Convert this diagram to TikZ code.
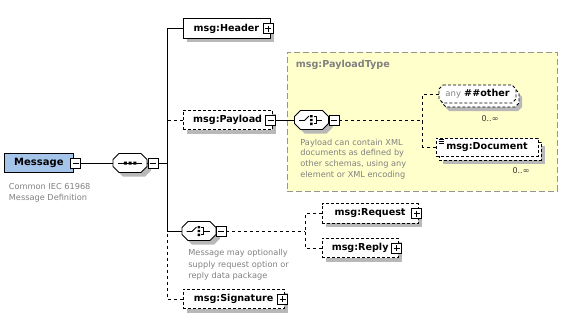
\documentclass[tikz,border=0pt]{standalone}
\usepackage{fontspec}
\setmainfont{DejaVu Sans}
\usetikzlibrary{calc}
\definecolor{shadowc}{RGB}{184,184,184}
\definecolor{msgblue}{RGB}{164,196,234}
\definecolor{yel}{RGB}{255,255,204}
\definecolor{yelborder}{RGB}{150,150,140}
\definecolor{capgrey}{RGB}{128,128,128}
\newcommand\nmfont{\fontsize{9.6}{11}\selectfont\bfseries}
% element box with shadow: name, left x, centre y, width, extra style, text
\newcommand\elembox[6]{%
  \fill[shadowc] ({#2+4},{#3-9.75+4}) rectangle ({#2+#4+4},{#3+9.75+4});
  \node[elem,#5,minimum width=#4pt,anchor=west] (#1) at (#2,#3) {#6\hspace{4pt}};
}
% compositor octagon: name, centre
\newcommand\compo[2]{%
  \begin{scope}[shift={#2}]
    \fill[shadowc] (-13,0.5) -- (-7,-5.5) -- (15,-5.5) -- (21,0.5) -- (21,7.5) -- (15,13.5) -- (-7,13.5) -- (-13,7.5) -- cycle;
    \draw[fill=white,solid] (-17,-3.5) -- (-11,-9.5) -- (11,-9.5) -- (17,-3.5) -- (17,3.5) -- (11,9.5) -- (-11,9.5) -- (-17,3.5) -- cycle;
    \node[inner sep=0pt,minimum width=34pt,minimum height=19pt] (#1) at (0,0) {};
  \end{scope}}
\newcommand\seqsym[1]{%
  \begin{scope}[shift={#1}]
    \draw[line width=0.8pt] (-12,0) -- (12,0);
    \fill (-6.25,-1.5) rectangle (-3.25,1.5) (-1.5,-1.5) rectangle (1.5,1.5) (3.25,-1.5) rectangle (6.25,1.5);
  \end{scope}}
\newcommand\choicesym[1]{%
  \begin{scope}[shift={#1}]
    \draw[line width=0.8pt] (-12.5,0.5) -- (-7,0.5) -- (-2.5,-4);
    \fill (-1.5,-5) rectangle (1,-2.6) (-1.5,-1.2) rectangle (1,1.2) (-1.5,2.6) rectangle (1,5);
    \draw[line width=0.8pt] (2,-3.8) -- (4.5,-3.8) -- (4.5,3.8) -- (2,3.8) (4.5,0) -- (10.5,0);
  \end{scope}}
\begin{document}
\begin{tikzpicture}[x=1pt,y=-1pt,line width=0.8pt,
  elem/.style={draw,fill=white,rectangle,minimum height=19.5pt,inner sep=0pt,font=\nmfont},
  optb/.style={dash pattern=on 3pt off 2pt},
  optc/.style={dash pattern=on 3pt off 3pt},
  btn/.style={draw,solid,fill=white,minimum size=10pt,inner sep=0pt,line width=0.6pt},
  minusbtn/.style={btn,path picture={\draw[line width=0.6pt] ([xshift=2pt]path picture bounding box.west) -- ([xshift=-2pt]path picture bounding box.east);}},
  plusbtn/.style={btn,path picture={\draw[line width=0.6pt] ([xshift=2pt]path picture bounding box.west) -- ([xshift=-2pt]path picture bounding box.east) ([yshift=-2pt]path picture bounding box.north) -- ([yshift=2pt]path picture bounding box.south);}},
  captxt/.style={align=left,text=capgrey,inner sep=0pt,anchor=north west},
  occ/.style={font=\fontsize{8}{9}\selectfont,text=black!80,inner sep=0pt},
]
\useasboundingbox (0,0) rectangle (582,324);

% PayloadType area
\node[draw=yelborder,fill=yel,dash pattern=on 6pt off 3pt,minimum width=270pt,minimum height=139pt,inner sep=0pt,anchor=north west] (ptype) at (287,52) {};
\node[anchor=west,inner sep=0pt,font=\nmfont,text=capgrey] (ptypelbl) at (295.5,65) {msg:PayloadType};

% root element
\node[draw,fill=msgblue,minimum width=69pt,minimum height=18.5pt,inner sep=0pt,anchor=west,font=\fontsize{10}{12}\selectfont\bfseries] (message) at (4,163) {Message};
\node[minusbtn] (msgbtn) at (75.5,163) {};
\node[captxt,font=\fontsize{8.2}{11}\selectfont] (msgcap) at (8.5,183.5) {Common IEC 61968\\Message Definition};

% sequence
\compo{seq}{(130,163)}
\seqsym{(130,163)}
\node[minusbtn] (seqbtn) at (153,163) {};
\coordinate (busmain) at (167,163);
\coordinate (bus) at (167,231);

% children
\elembox{header}{182.5}{28.5}{87}{}{msg:Header}
\node[plusbtn] (hdrbtn) at (268,28.5) {};
\elembox{payload}{182.5}{120}{89.5}{optb}{msg:Payload}
\node[minusbtn] (paybtn) at (270.5,120) {};
\elembox{signature}{182.5}{299}{101.5}{optb}{msg:Signature}
\node[plusbtn] (sigbtn) at (282.5,299) {};

% choice in payload
\compo{choice1}{(311.5,120)}
\choicesym{(311.5,120)}
\node[minusbtn] (c1btn) at (334,120) {};
\coordinate (c1j) at (422.5,120);
\node[captxt,font=\fontsize{8.2}{10.8}\selectfont] (paycap) at (300,138.5) {Payload can contain XML\\documents as defined by\\other schemas, using any\\element or XML encoding};

% any ##other (multiple)
\begin{scope}[shift={(483.5,102)}]
  \fill[shadowc] (-34.5,-9) -- (34.5,-9) -- (38.5,-5) -- (38.5,5) -- (34.5,9) -- (-34.5,9) -- (-38.5,5) -- (-38.5,-5) -- cycle;
\end{scope}
\begin{scope}[shift={(480.5,98)}]
  \draw[optb,fill=white] (-34.5,-9) -- (34.5,-9) -- (38.5,-5) -- (38.5,5) -- (34.5,9) -- (-34.5,9) -- (-38.5,5) -- (-38.5,-5) -- cycle;
\end{scope}
\begin{scope}[shift={(477.5,94)}]
  \draw[optb,fill=white] (-34.5,-9) -- (34.5,-9) -- (38.5,-5) -- (38.5,5) -- (34.5,9) -- (-34.5,9) -- (-38.5,5) -- (-38.5,-5) -- cycle;
\end{scope}
\node[inner sep=0pt,minimum width=77pt,minimum height=18pt] (any) at (477.5,94) {\textcolor{capgrey}{\fontsize{8.5}{10}\selectfont any} {\nmfont\#\#other}};
\node[occ] (anyocc) at (490,119) {0..∞};

% msg:Document (multiple)
\fill[shadowc] (443,146) rectangle (545,164);
\node[elem,optb,minimum width=102pt,minimum height=18pt] (docback) at (490,151) {};
\node[elem,optb,minimum width=102pt,minimum height=18pt] (doc) at (487,147) {msg:Document};
\draw[line width=0.5pt] (438.5,139.6) -- (443.5,139.6) (438.5,141.4) -- (443.5,141.4) (438.5,143.2) -- (443.5,143.2);
\node[occ] (dococc) at (521,171) {0..∞};

% choice under message
\compo{choice2}{(199,231)}
\choicesym{(199,231)}
\node[minusbtn] (c2btn) at (221,231) {};
\coordinate (c2j) at (305,231);
\node[captxt,font=\fontsize{8.2}{11.5}\selectfont] (c2cap) at (188,249) {Message may optionally\\supply request option or\\reply data package};

\elembox{request}{321.5}{213.5}{96.5}{optb}{msg:Request}
\node[plusbtn] (reqbtn) at (416.5,213.5) {};
\elembox{reply}{321.5}{248}{76.5}{optb}{msg:Reply}
\node[plusbtn] (repbtn) at (396.5,248) {};

% connectors
\draw (msgbtn.east) -- (seq.west);
\draw (seq.east) -- (seqbtn.west);
\draw (seqbtn.east) -- (busmain);
\draw (header.west) -| (bus);
\draw[optc] (payload.west) -- (payload.west -| bus);
\draw (choice2.west) -- (bus);
\draw[optc] (signature.west) -| (bus);
\draw (paybtn.east) -- (choice1.west);
\draw[optc] (c1btn.east) -- (c1j);
\draw[optc] (any.west) -| (c1j);
\draw[optc] (doc.west) -| (c1j);
\draw[optc] (c2btn.east) -- (c2j);
\draw[optc] (request.west) -| (c2j);
\draw[optc] (reply.west) -| (c2j);
\end{tikzpicture}
\end{document}
